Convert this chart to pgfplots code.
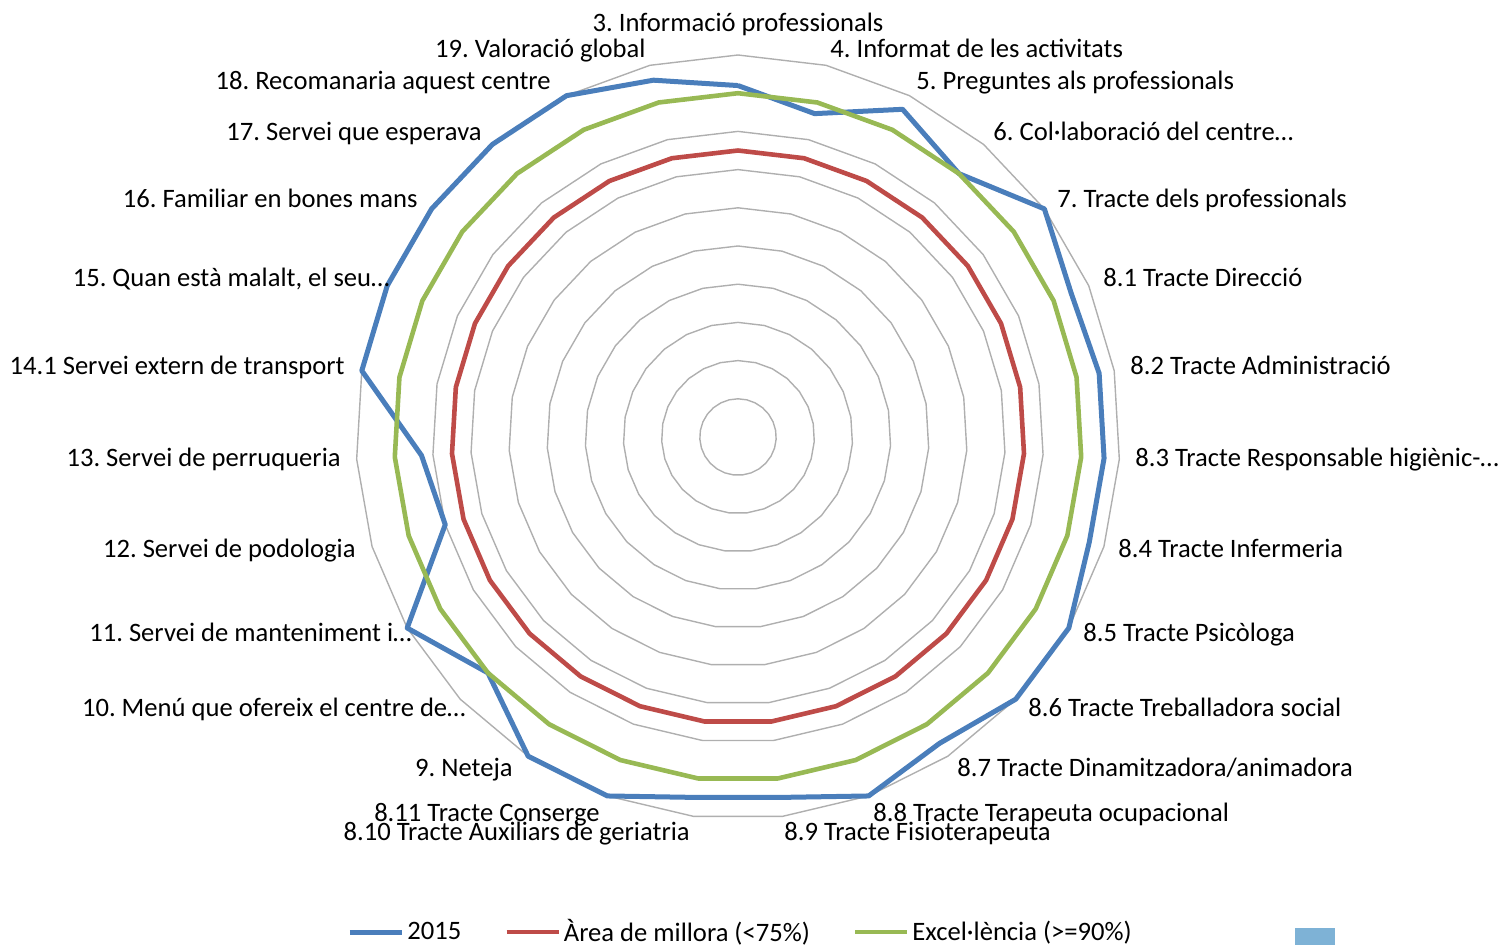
\documentclass[border=0pt]{standalone}
\usepackage{fontspec}
\setmainfont{Carlito}
\usepackage{pgfplots}
\pgfplotsset{compat=1.18}
\usepackage{pgfplotstable}
\usepgfplotslibrary{polar}
\definecolor{cBlue}{RGB}{74,126,187}
\definecolor{cRed}{RGB}{190,75,72}
\definecolor{cGreen}{RGB}{152,185,84}
\definecolor{cGrid}{RGB}{175,175,175}
\definecolor{cSq}{RGB}{126,178,214}
\frenchspacing

% angle (degrees, counter-clockwise from east), 2015, improvement threshold, excellence threshold
\pgfplotstableread{
angle v2015 millora excel
90 0.92 0.75 0.90
76.667 0.87 0.75 0.90
63.333 0.96 0.75 0.90
50 0.90 0.75 0.90
36.667 1.00 0.75 0.90
23.333 0.95 0.75 0.90
10 0.96 0.75 0.90
356.667 0.96 0.75 0.90
343.333 0.96 0.75 0.90
330 1.00 0.75 0.90
316.667 1.00 0.75 0.90
303.333 0.96 0.75 0.90
290 1.00 0.75 0.90
276.667 0.95 0.75 0.90
263.333 0.95 0.75 0.90
250 1.00 0.75 0.90
236.667 1.00 0.75 0.90
223.333 0.90 0.75 0.90
210 1.00 0.75 0.90
196.667 0.80 0.75 0.90
183.333 0.83 0.75 0.90
170 1.00 0.75 0.90
156.667 1.00 0.75 0.90
143.333 1.00 0.75 0.90
130 1.00 0.75 0.90
116.667 1.00 0.75 0.90
103.333 0.96 0.75 0.90
90 0.92 0.75 0.90
}\radar

\begin{document}
\begin{tikzpicture}[x=0.5pt,y=0.5pt,font=\fontsize{13.3}{16}\selectfont]
\path[use as bounding box] (0,0) rectangle (1506,-945);
\coordinate (C) at (738,-437);
\begin{polaraxis}[
  at={(C)}, anchor=center,
  width=382pt, height=382pt, scale only axis,
  xmin=0, xmax=360, ymin=0, ymax=1,
  hide axis, clip=false,
  legend style={at={(0.504,-0.148)}, anchor=center, draw=none, fill=none,
    font=\fontsize{13.3}{16}\selectfont, legend columns=-1,
    /tikz/every even column/.append style={column sep=20pt},
    nodes={inner sep=1.5pt}},
  legend image code/.code={\draw[#1] (0pt,0pt) -- (26pt,0pt);},
]
\pgfplotsinvokeforeach{0.1,0.2,0.3,0.4,0.5,0.6,0.7,0.8,0.9,1.0}{
  \addplot[cGrid, line width=0.7pt, forget plot] table[x=angle, y expr=#1]{\radar};
}
\addplot[cBlue, line width=2.5pt, line join=round] table[x=angle, y=v2015]{\radar};
\addlegendentry{2015}
\addplot[cRed, line width=2.3pt, line join=round] table[x=angle, y=millora]{\radar};
\addlegendentry{Àrea de millora (<75\%)}
\addplot[cGreen, line width=2.3pt, line join=round] table[x=angle, y=excel]{\radar};
\addlegendentry{Excel·lència (>=90\%)}
\end{polaraxis}

\begin{scope}[every node/.style={inner sep=0pt}]
\node[anchor=base] at (738,-32) {3. Informació professionals};
\node[anchor=base west] at (830,-58) {4. Informat de les activitats};
\node[anchor=base west] at (916,-90) {5. Preguntes als professionals};
\node[anchor=base west] at (993,-141) {6. Col·laboració del centre…};
\node[anchor=base west] at (1057,-208) {7. Tracte dels professionals};
\node[anchor=base west] at (1103,-287) {8.1 Tracte Direcció};
\node[anchor=base west] at (1130,-375) {8.2 Tracte Administració};
\node[anchor=base west] at (1135,-467) {8.3 Tracte Responsable higiènic-…};
\node[anchor=base west] at (1118,-558) {8.4 Tracte Infermeria};
\node[anchor=base west] at (1083,-642) {8.5 Tracte Psicòloga};
\node[anchor=base west] at (1028,-717) {8.6 Tracte Treballadora social};
\node[anchor=base west] at (957,-777) {8.7 Tracte Dinamitzadora/animadora};
\node[anchor=base west] at (873,-822) {8.8 Tracte Terapeuta ocupacional};
\node[anchor=base west] at (784,-841) {8.9 Tracte Fisioterapeuta};
\node[anchor=base east] at (690,-841) {8.10 Tracte Auxiliars de geriatria};
\node[anchor=base east] at (600,-822) {8.11 Tracte Conserge};
\node[anchor=base east] at (513,-777) {9. Neteja};
\node[anchor=base east] at (466,-717) {10. Menú que ofereix el centre de…};
\node[anchor=base east] at (412,-642) {11. Servei de manteniment i…};
\node[anchor=base east] at (356,-558) {12. Servei de podologia};
\node[anchor=base east] at (341,-467) {13. Servei de perruqueria};
\node[anchor=base east] at (345,-375) {14.1 Servei extern de transport};
\node[anchor=base east] at (390,-287) {15. Quan està malalt, el seu…};
\node[anchor=base east] at (418,-208) {16. Familiar en bones mans};
\node[anchor=base east] at (482,-141) {17. Servei que esperava};
\node[anchor=base east] at (551,-90) {18. Recomanaria aquest centre};
\node[anchor=base east] at (646,-58) {19. Valoració global};
\end{scope}
\fill[cSq] (1295,-928) rectangle (1335,-950);
\end{tikzpicture}
\end{document}
